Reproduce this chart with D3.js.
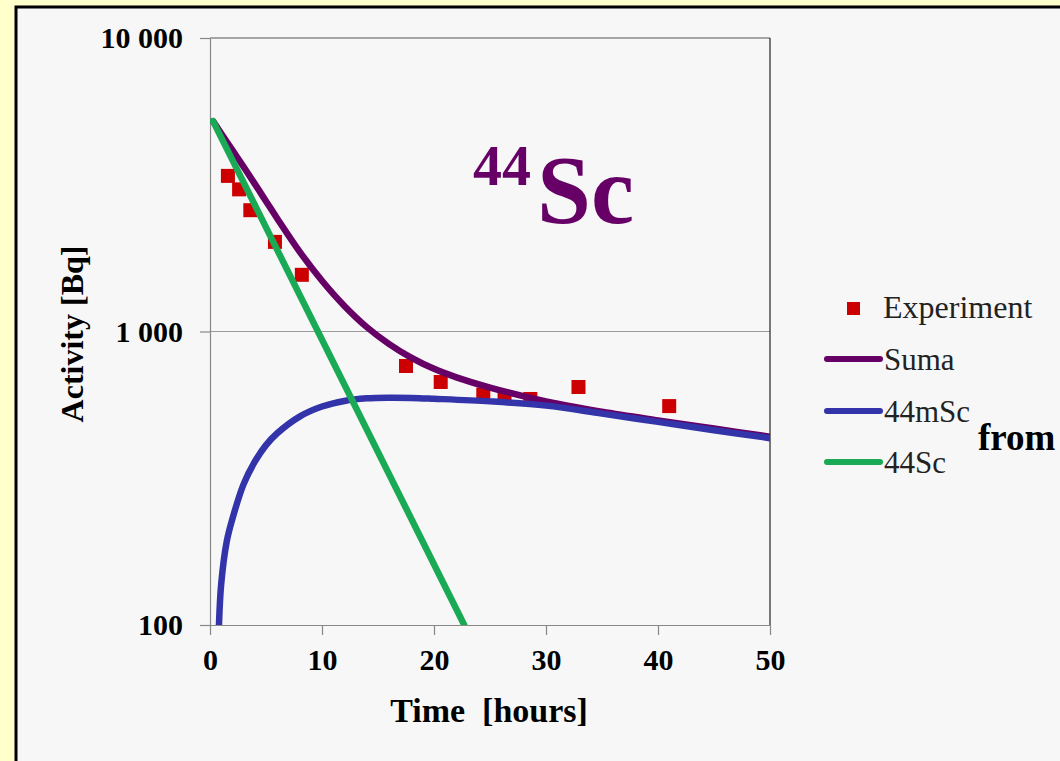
<!DOCTYPE html>
<html>
<head>
<meta charset="utf-8">
<script src="https://cdn.jsdelivr.net/npm/d3@7"></script>
<style>
  body { margin: 0; background: #ffffcc; }
  svg { display: block; font-family: "Liberation Serif", "Times New Roman", serif; }
</style>
</head>
<body>
<svg id="chart" width="1060" height="761"></svg>
<script>
// Experiment points
const expTime = [1.6, 2.6, 3.6, 5.8, 8.2, 17.5, 20.6, 24.4, 26.3, 28.6, 32.9, 41.0];
const expActivity = [3390, 3050, 2590, 2020, 1560, 763, 673, 610, 598, 589, 647, 557];

// Suma (fit)
const sumaTime = [0.27, 1, 2, 3, 4, 5, 6, 8, 10, 12, 14, 16, 18, 20, 22, 25, 30, 35, 40, 45, 50];
const sumaActivity = [5210, 4730, 4150, 3640, 3184, 2780, 2427, 1871, 1489, 1222, 1035, 906, 813, 746, 698, 644, 578, 533, 498, 467, 438];

// 44mSc
const mScTime = [0.8, 1, 1.5, 2, 3, 4, 5, 6, 8, 10, 12, 14, 16, 18, 20, 25, 30, 35, 40, 45, 50];
const mScActivity = [100, 138, 193, 230, 302, 360, 410, 450, 513, 555, 580, 592, 595, 594, 590, 578, 559, 525, 492, 461, 433];

// 44Sc
const scTime = [0.27, 22.7];
const scActivity = [5210, 100];

const xTicks = [0, 10, 20, 30, 40, 50];
const yTicks = [100, 1000, 10000];
const yTickLabels = ["100", "1 000", "10 000"];

const legendItems = ["Experiment", "Suma", "44mSc", "44Sc"];
const colors = { exp: "#cc0000", suma: "#660066", msc: "#3333aa", sc: "#1aaa55" };

const svg = d3.select("#chart");

// panel
svg.append("rect")
    .attr("x", 16).attr("y", 7)
    .attr("width", 1100).attr("height", 800)
    .attr("fill", "#f7f7f7")
    .attr("stroke", "#000")
    .attr("stroke-width", 3);

const x = d3.scaleLinear().domain([0, 50]).range([210, 770]);
const y = d3.scaleLog().domain([100, 10000]).range([625, 38]);

svg.append("defs").append("clipPath").attr("id", "plot-clip")
    .append("rect")
    .attr("x", x(0)).attr("y", y(10000))
    .attr("width", x(50) - x(0)).attr("height", y(100) - y(10000));

// gridline at 1000
svg.append("line")
    .attr("x1", x(0)).attr("x2", x(50))
    .attr("y1", y(1000)).attr("y2", y(1000))
    .attr("stroke", "#999").attr("stroke-width", 1.2);

// frame top / right
svg.append("line")
    .attr("x1", x(0)).attr("x2", x(50)).attr("y1", y(10000)).attr("y2", y(10000))
    .attr("stroke", "#555").attr("stroke-width", 1.2);
svg.append("line")
    .attr("x1", x(50)).attr("x2", x(50)).attr("y1", y(10000)).attr("y2", y(100))
    .attr("stroke", "#222").attr("stroke-width", 1.2);

// Y axis
const yAxis = svg.append("g")
    .attr("transform", `translate(${x(0)},0)`)
    .call(d3.axisLeft(y).tickValues(yTicks)
        .tickFormat((d, i) => yTickLabels[i])
        .tickSize(10).tickSizeOuter(0).tickPadding(17));
yAxis.select(".domain").attr("stroke", "#888").attr("stroke-width", 1.2);
yAxis.selectAll(".tick line").attr("stroke", "#888").attr("stroke-width", 1.2);
yAxis.selectAll(".tick text")
    .attr("font-family", "Liberation Serif, serif")
    .attr("font-size", 30).attr("font-weight", "bold").attr("fill", "#000");

// X axis
const xAxis = svg.append("g")
    .attr("transform", `translate(0,${y(100)})`)
    .call(d3.axisBottom(x).tickValues(xTicks).tickFormat(d3.format("d"))
        .tickSize(10).tickSizeOuter(0).tickPadding(14));
xAxis.select(".domain").attr("stroke", "#888").attr("stroke-width", 1.2);
xAxis.selectAll(".tick line").attr("stroke", "#888").attr("stroke-width", 1.2);
xAxis.selectAll(".tick text")
    .attr("font-family", "Liberation Serif, serif")
    .attr("font-size", 30).attr("font-weight", "bold").attr("fill", "#000");

// axis titles
svg.append("text")
    .attr("x", 489).attr("y", 722)
    .attr("text-anchor", "middle")
    .attr("font-size", 34).attr("font-weight", "bold")
    .style("white-space", "pre")
    .text("Time  [hours]");

svg.append("text")
    .attr("transform", "translate(83,334) rotate(-90)")
    .attr("text-anchor", "middle")
    .attr("font-size", 32).attr("font-weight", "bold")
    .text("Activity [Bq]");

// plot contents
const plot = svg.append("g").attr("clip-path", "url(#plot-clip)");

const sq = 14;
plot.selectAll(".exp")
    .data(expTime.map((t, i) => ({ t, a: expActivity[i] })))
    .enter().append("rect")
    .attr("class", "exp")
    .attr("x", d => x(d.t) - sq / 2)
    .attr("y", d => y(d.a) - sq / 2)
    .attr("width", sq).attr("height", sq)
    .attr("fill", colors.exp);

const line = d3.line()
    .x(d => x(d[0]))
    .y(d => y(d[1]))
    .curve(d3.curveCatmullRom.alpha(0.5));

const series = [
    { t: sumaTime, a: sumaActivity, c: colors.suma },
    { t: mScTime, a: mScActivity, c: colors.msc },
    { t: scTime, a: scActivity, c: colors.sc }
];
series.forEach(s => {
    plot.append("path")
        .datum(s.t.map((t, i) => [t, s.a[i]]))
        .attr("fill", "none")
        .attr("stroke", s.c)
        .attr("stroke-width", 6.5)
        .attr("stroke-linecap", "round")
        .attr("d", line);
});

// big label
const lbl = svg.append("text")
    .attr("x", 473).attr("y", 223)
    .attr("fill", "#660066").attr("font-weight", "bold");
lbl.append("tspan").attr("font-size", 58).attr("dy", -38).text("44");
lbl.append("tspan").attr("font-size", 97).attr("dx", 6).attr("dy", 38).text("Sc");

// legend
const lg = svg.append("g");
lg.append("rect")
    .attr("x", 847).attr("y", 302).attr("width", 13).attr("height", 13)
    .attr("fill", colors.exp);
lg.append("text")
    .attr("x", 883).attr("y", 318)
    .attr("font-size", 32).attr("fill", "#222")
    .text(legendItems[0]);

const legendLines = [
    { label: legendItems[1], c: colors.suma, y: 359 },
    { label: legendItems[2], c: colors.msc, y: 411 },
    { label: legendItems[3], c: colors.sc, y: 462 }
];
legendLines.forEach(d => {
    lg.append("line")
        .attr("x1", 827).attr("x2", 880)
        .attr("y1", d.y).attr("y2", d.y)
        .attr("stroke", d.c).attr("stroke-width", 6)
        .attr("stroke-linecap", "round");
    lg.append("text")
        .attr("x", 884).attr("y", d.y + 11)
        .attr("font-size", 31).attr("fill", "#222")
        .text(d.label);
});

svg.append("text")
    .attr("x", 978).attr("y", 450)
    .attr("font-size", 37).attr("font-weight", "bold")
    .text("from");
</script>
</body>
</html>
